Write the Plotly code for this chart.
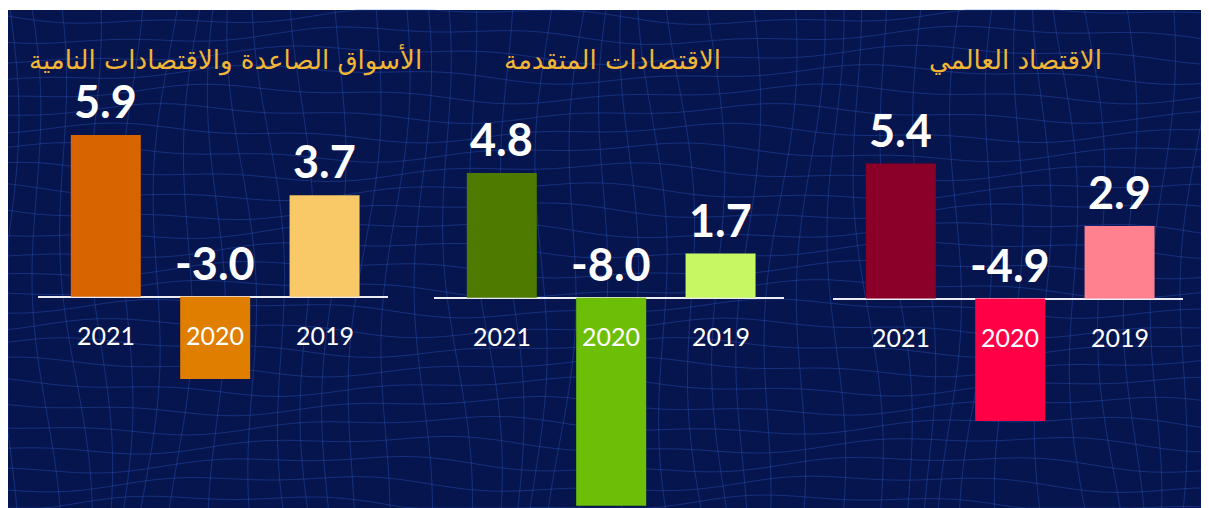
import numpy as np
import plotly.graph_objects as go

# ---------------- data ----------------
years = ["2021", "2020", "2019"]
titles = [
    "الأسواق الصاعدة والاقتصادات النامية",
    "الاقتصادات المتقدمة",
    "الاقتصاد العالمي",
]
emerging = [5.9, -3.0, 3.7]
advanced = [4.8, -8.0, 1.7]
world = [5.4, -4.9, 2.9]
series = [emerging, advanced, world]

colors_emerging = ["#D86400", "#E07E00", "#FAC967"]
colors_advanced = ["#4E7A00", "#6CBF06", "#C8F764"]
colors_world = ["#8B0029", "#FF0047", "#FF808F"]
panel_colors = [colors_emerging, colors_advanced, colors_world]

# ---------------- layout settings ----------------
W, H = 1201, 500
BG = "#07154F"
x_domains = [[30 / W, 380 / W], [426 / W, 776 / W], [825 / W, 1175 / W]]
y_domain = [0, 1 - 2 / H]
y_ranges = [[-7.71, 10.46], [-8.09, 11.07], [-8.38, 11.54]]
x_range = [-0.62, 2.58]
title_shift = [12, 3, 7]

fig = go.Figure()
annotations = []
for k in range(3):
    sfx = "" if k == 0 else str(k + 1)
    fig.add_trace(go.Bar(
        x=years, y=series[k],
        marker=dict(color=panel_colors[k], line=dict(width=0)),
        width=0.64,
        xaxis="x" + sfx, yaxis="y" + sfx,
        showlegend=False, hoverinfo="x+y",
    ))
    fig.update_layout(**{
        "xaxis" + sfx: dict(domain=x_domains[k], range=x_range, type="category",
                            showticklabels=False, showgrid=False, zeroline=False,
                            showline=False, anchor="y" + sfx, fixedrange=True),
        "yaxis" + sfx: dict(domain=y_domain, range=y_ranges[k], showticklabels=False,
                            showgrid=False, zeroline=True, zerolinecolor="#ECECF4",
                            zerolinewidth=2, showline=False, anchor="x" + sfx,
                            fixedrange=True),
    })
    xr = "x" + sfx
    yr = "y" + sfx
    for idx, (yr_label, v) in enumerate(zip(years, series[k])):
        txt = f"{v:.1f}"
        annotations.append(dict(
            x=idx, y=max(v, 0), xref=xr, yref=yr, text=txt, showarrow=False,
            xanchor="center", yanchor="bottom", yshift=5,
            font=dict(family="Lato", size=45, color="white", weight="bold"),
        ))
        annotations.append(dict(
            x=idx, y=0, xref=xr, yref=yr, text=yr_label, showarrow=False,
            xanchor="center", yanchor="middle", yshift=-38,
            font=dict(family="Lato", size=25, color="white"),
        ))
    annotations.append(dict(
        x=0.5, y=1 - 52 / H, xref=xr + " domain", yref="paper", text=titles[k],
        showarrow=False, xanchor="center", yanchor="middle", xshift=title_shift[k],
        font=dict(family="DejaVu Sans", size=26, color="#F2B634"),
    ))

# ---------------- decorative background ----------------
shapes = [dict(type="rect", xref="paper", yref="paper", x0=0, x1=1,
               y0=0, y1=1 - 2 / H, fillcolor=BG, line=dict(width=0), layer="below")]


def to_path(pts):
    return "M " + " L ".join(f"{px / W:.5f},{1 - py / H:.5f}" for px, py in pts)


mesh_color = "rgba(40,85,185,0.42)"
xs = np.linspace(0, W, 80)
for j in range(26):
    base = 8 + j * 19.5
    pts = []
    for xi in xs:
        yy = base + 7 * np.sin(xi / 95 + j * 0.6) + 3 * np.sin(xi / 33 + j * 1.3)
        yy = min(max(yy, 2), H)
        pts.append((xi, yy))
    shapes.append(dict(type="path", xref="paper", yref="paper", path=to_path(pts),
                       line=dict(color=mesh_color, width=1), layer="below"))
ys = np.linspace(2, H, 40)
for i in range(42):
    base = 2 + i * 29.5
    pts = []
    for yi in ys:
        xx = base + 9 * np.sin(yi / 70 + i * 0.5) + (yi - 250) * 0.06 * np.sin(i * 0.9)
        xx = min(max(xx, 0), W)
        pts.append((xx, yi))
    shapes.append(dict(type="path", xref="paper", yref="paper", path=to_path(pts),
                       line=dict(color=mesh_color, width=1), layer="below"))

fig.update_layout(
    width=W, height=H,
    margin=dict(l=0, r=0, t=0, b=0),
    paper_bgcolor="white",
    plot_bgcolor="rgba(0,0,0,0)",
    annotations=annotations,
    shapes=shapes,
    bargap=0.3,
)

fig.write_html("out.html")
